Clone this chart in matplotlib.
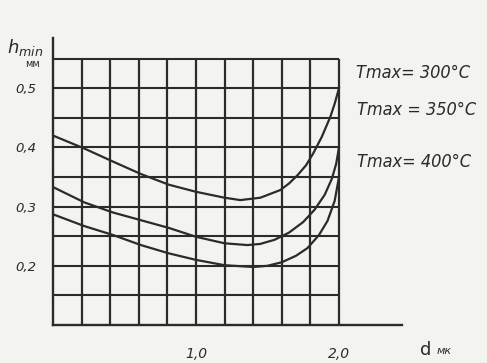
import matplotlib
matplotlib.use("Agg")
import matplotlib.pyplot as plt

# data (d on the chart's x scale, h_min in mm)
d_300 = [0.0, 0.22, 0.42, 0.615, 0.81, 1.0, 1.2, 1.31, 1.45, 1.59, 1.65, 1.71, 1.77, 1.82, 1.88, 1.94, 1.97, 2.0]
h_300 = [0.42, 0.398, 0.376, 0.355, 0.337, 0.325, 0.315, 0.311, 0.315, 0.328, 0.339, 0.353, 0.370, 0.390, 0.418, 0.452, 0.474, 0.50]

d_350 = [0.0, 0.22, 0.42, 0.615, 0.81, 1.0, 1.2, 1.36, 1.45, 1.55, 1.65, 1.75, 1.83, 1.9, 1.95, 1.98, 2.0]
h_350 = [0.333, 0.307, 0.29, 0.277, 0.264, 0.249, 0.238, 0.235, 0.237, 0.244, 0.256, 0.274, 0.295, 0.32, 0.347, 0.372, 0.40]

d_400 = [0.0, 0.22, 0.42, 0.615, 0.81, 1.0, 1.2, 1.4, 1.5, 1.6, 1.7, 1.78, 1.86, 1.92, 1.97, 2.0]
h_400 = [0.287, 0.267, 0.252, 0.235, 0.221, 0.21, 0.201, 0.198, 0.2, 0.206, 0.217, 0.23, 0.252, 0.276, 0.31, 0.35]

series_labels = ["Tmax= 300°C", "Tmax = 350°C", "Tmax= 400°C"]
y_ticks = [0.2, 0.3, 0.4, 0.5]
y_ticklabels = ["0,2", "0,3", "0,4", "0,5"]
x_ticks = [1.0, 2.0]
x_ticklabels = ["1,0", "2,0"]
grid_x = [0.2, 0.4, 0.6, 0.8, 1.0, 1.2, 1.4, 1.6, 1.8, 2.0]
grid_y = [0.15, 0.2, 0.25, 0.3, 0.35, 0.4, 0.45, 0.5, 0.55]

bg = "#f3f3ef"
ink = "#2b2b2b"

fig = plt.figure(figsize=(4.87, 3.63), dpi=100, facecolor=bg)
ax = fig.add_axes([53/487, 1-325/363, 349/487, 287/363])
ax.set_facecolor(bg)
ax.set_xlim(0, 349/143)
ax.set_ylim(0.1, 0.1 + 287/592)

for gx in grid_x:
    ax.plot([gx, gx], [0.1, 0.55], color=ink, lw=1.6, solid_capstyle="butt")
for gy in grid_y:
    ax.plot([0, 2.0], [gy, gy], color=ink, lw=1.5, solid_capstyle="butt")

for d, h in [(d_300, h_300), (d_350, h_350), (d_400, h_400)]:
    ax.plot(d, h, color=ink, lw=1.6, solid_joinstyle="round")

for s in ["top", "right"]:
    ax.spines[s].set_visible(False)
for s in ["left", "bottom"]:
    ax.spines[s].set_color(ink)
    ax.spines[s].set_linewidth(1.7)

ax.set_yticks(y_ticks)
ax.set_yticklabels(y_ticklabels, fontstyle="italic", fontsize=9.5, color=ink)
ax.set_xticks(x_ticks)
ax.set_xticklabels(x_ticklabels, fontstyle="italic", fontsize=10, color=ink)
ax.tick_params(axis="both", length=0)
ax.tick_params(axis="y", pad=12)
ax.tick_params(axis="x", pad=16)

# axis titles
fig.text(7/487, 1-48/363, "$h_{min}$", fontsize=13, color=ink, va="center", ha="left")
fig.text(33/487, 1-64/363, "мм", fontsize=7, color=ink, va="center", ha="center")
fig.text(420/487, 1-350/363, "d", fontsize=13, color=ink, va="center", ha="left")
fig.text(437/487, 1-351/363, "мк", fontsize=8, color=ink, va="center", ha="left", fontstyle="italic")

# series labels
label_pos = [(356, 73), (357, 110), (357, 162)]
for (px, py), lab in zip(label_pos, series_labels):
    fig.text(px/487, 1-py/363, lab, fontsize=13, color=ink, va="center", ha="left",
             fontstyle="italic", fontstretch="condensed")

fig.savefig("out.png", dpi=100, facecolor=bg)
